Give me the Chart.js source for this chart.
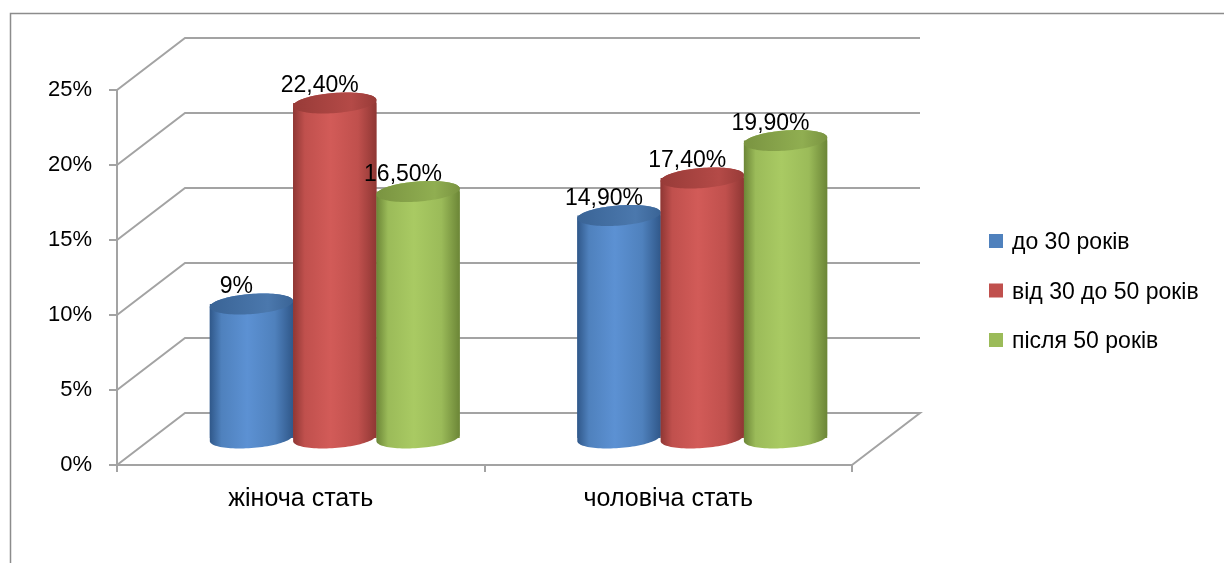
<!DOCTYPE html>
<html lang="uk">
<head>
<meta charset="utf-8">
<title>Вікові групи за статтю</title>
<script src="https://cdn.jsdelivr.net/npm/chart.js@4.4.0/dist/chart.umd.min.js"></script>
<style>
  html, body { margin: 0; padding: 0; background: #fff; }
  #wrap { width: 1224px; height: 563px; }
</style>
</head>
<body>
<div id="wrap"><canvas id="chart" width="1224" height="563"></canvas></div>
<script>
// категорії по осі X
const categories = ['жіноча стать', 'чоловіча стать'];

// серії, значення у %
const seriesNames = ['до 30 років', 'від 30 до 50 років', 'після 50 років'];
const under30 = [9, 14.9];
const from30to50 = [22.4, 17.4];
const over50 = [16.5, 19.9];

// підписи над стовпчиками (як у вихідній діаграмі)
const under30Labels = ['9%', '14,90%'];
const from30to50Labels = ['22,40%', '17,40%'];
const over50Labels = ['16,50%', '19,90%'];

// шкала Y
const yMin = 0;
const yMax = 25;
const yStep = 5;

// кольори циліндрів
const palette = [
    { base: '#4f81bd', dark: '#30588a', light: '#5c91d3', capDark: '#3a6496', capLight: '#4b78ad' },
    { base: '#c0504d', dark: '#8f3734', light: '#d25b58', capDark: '#983b38', capLight: '#b44a47' },
    { base: '#9bbb59', dark: '#6c8637', light: '#a9ca63', capDark: '#7a9441', capLight: '#90ae51' },
];

const TEXT_FONT = '"Liberation Sans", Arial, sans-serif';
const LINE = '#a3a3a3';
// глибина 3D-стінок
const DEPTH_X = 68;
const DEPTH_Y = -52;

/**
 * рамка навколо діаграми
 */
const framePlugin = {
    id: 'frame',
    beforeDraw(chart) {
        const ctx = chart.ctx;
        ctx.save();
        ctx.strokeStyle = '#8c8c8c';
        ctx.lineWidth = 1.5;
        ctx.beginPath();
        ctx.moveTo(10.5, chart.height);
        ctx.lineTo(10.5, 13.5);
        ctx.lineTo(chart.width, 13.5);
        ctx.stroke();
        ctx.restore();
    },
};

/**
 * 3D стінки, циліндри, підписи і легенда
 */
const cylinderPlugin = {
    id: 'cylinders',
    beforeDatasetsDraw(chart) {
        const ctx = chart.ctx;
        const { left, right, bottom } = chart.chartArea;
        const y = chart.scales.y;

        ctx.save();
        ctx.strokeStyle = LINE;
        ctx.lineWidth = 2;
        y.ticks.forEach(t => {
            const py = y.getPixelForValue(t.value);
            ctx.beginPath();
            ctx.moveTo(left, py);
            ctx.lineTo(left + DEPTH_X, py + DEPTH_Y);
            ctx.lineTo(right + DEPTH_X, py + DEPTH_Y);
            if (t.value === yMin) ctx.lineTo(right, bottom);
            ctx.stroke();
        });
        ctx.restore();

        // стовпчики стоять посередині глибини
        ctx.save();
        ctx.translate(DEPTH_X / 2, DEPTH_Y / 2);
    },
    afterDatasetsDraw(chart) {
        const ctx = chart.ctx;
        const valueLabels = [under30Labels, from30to50Labels, over50Labels];

        chart.data.datasets.forEach((ds, i) => {
            const meta = chart.getDatasetMeta(i);
            meta.data.forEach(bar => drawCylinder(ctx, bar, palette[i]));
        });

        ctx.fillStyle = '#000';
        ctx.font = '23px ' + TEXT_FONT;
        ctx.textAlign = 'center';
        ctx.textBaseline = 'alphabetic';
        chart.data.datasets.forEach((ds, i) => {
            const meta = chart.getDatasetMeta(i);
            meta.data.forEach((bar, j) => {
                ctx.fillText(valueLabels[i][j], bar.x - 15, bar.y - 11);
            });
        });

        ctx.restore();
    },
    afterDraw(chart) {
        // легенда праворуч
        const ctx = chart.ctx;
        ctx.save();
        ctx.font = '23px ' + TEXT_FONT;
        ctx.textBaseline = 'middle';
        ctx.textAlign = 'left';
        chart.data.datasets.forEach((ds, i) => {
            const cy = 241 + i * 49.5;
            ctx.fillStyle = palette[i].base;
            ctx.fillRect(989, cy - 7, 14, 14);
            ctx.fillStyle = '#000';
            ctx.fillText(ds.label, 1012, cy + 2);
        });
        ctx.restore();
    },
};

/**
 * циліндр у косокутній проекції
 */
function drawCylinder(ctx, bar, pal) {
    const { x, y, base, width } = bar.getProps(['x', 'y', 'base', 'width'], true);
    const R = width / 2;
    const b = 12;      // зсув по глибині
    const c = -10.5;   // вертикальний радіус
    const a = Math.sqrt(R * R - b * b);
    const thR = Math.atan2(b, a);
    const pt = (cy, th) => [x + a * Math.cos(th) + b * Math.sin(th), cy + c * Math.sin(th)];
    const N = 48;

    const g = ctx.createLinearGradient(x - R, 0, x + R, 0);
    g.addColorStop(0, pal.dark);
    g.addColorStop(0.14, pal.base);
    g.addColorStop(0.45, pal.light);
    g.addColorStop(0.78, pal.base);
    g.addColorStop(1, pal.dark);

    ctx.beginPath();
    for (let k = 0; k <= N; k++) {
        const [px, py] = pt(base, thR - Math.PI * k / N);
        k === 0 ? ctx.moveTo(px, py) : ctx.lineTo(px, py);
    }
    for (let k = 0; k <= N; k++) {
        const [px, py] = pt(y, thR + Math.PI - Math.PI * k / N);
        ctx.lineTo(px, py);
    }
    ctx.closePath();
    ctx.fillStyle = g;
    ctx.fill();

    // кришка
    const cg = ctx.createLinearGradient(x - R, 0, x + R, 0);
    cg.addColorStop(0, pal.capDark);
    cg.addColorStop(0.7, pal.capLight);
    cg.addColorStop(1, pal.capDark);
    ctx.beginPath();
    for (let k = 0; k <= 2 * N; k++) {
        const [px, py] = pt(y, Math.PI * k / N);
        k === 0 ? ctx.moveTo(px, py) : ctx.lineTo(px, py);
    }
    ctx.closePath();
    ctx.fillStyle = cg;
    ctx.fill();
}

const datasets = [under30, from30to50, over50].map((values, i) => ({
    label: seriesNames[i],
    data: values,
    backgroundColor: palette[i].capDark,
    borderWidth: 0,
    barPercentage: 1,
    categoryPercentage: 0.68,
    clip: false,
}));

new Chart(document.getElementById('chart'), {
    type: 'bar',
    data: { labels: categories, datasets },
    plugins: [framePlugin, cylinderPlugin],
    options: {
        responsive: false,
        animation: false,
        layout: { padding: { left: 0, top: 90, right: 372, bottom: 0 } },
        plugins: {
            legend: { display: false },
            tooltip: { enabled: false },
        },
        scales: {
            x: {
                afterFit: s => { s.height = 98; },
                grid: { drawOnChartArea: false, tickLength: 7, color: LINE, lineWidth: 2 },
                border: { color: LINE, width: 2 },
                ticks: { color: '#000', padding: 12, font: { family: TEXT_FONT, size: 25 } },
            },
            y: {
                min: yMin,
                max: yMax,
                afterFit: s => { s.width = 117; },
                grid: { drawOnChartArea: false, tickLength: 8, color: LINE, lineWidth: 2 },
                border: { color: LINE, width: 2 },
                ticks: {
                    stepSize: yStep,
                    color: '#000',
                    padding: 17,
                    font: { family: TEXT_FONT, size: 22 },
                    callback: v => v + '%',
                },
            },
        },
    },
});
</script>
</body>
</html>
